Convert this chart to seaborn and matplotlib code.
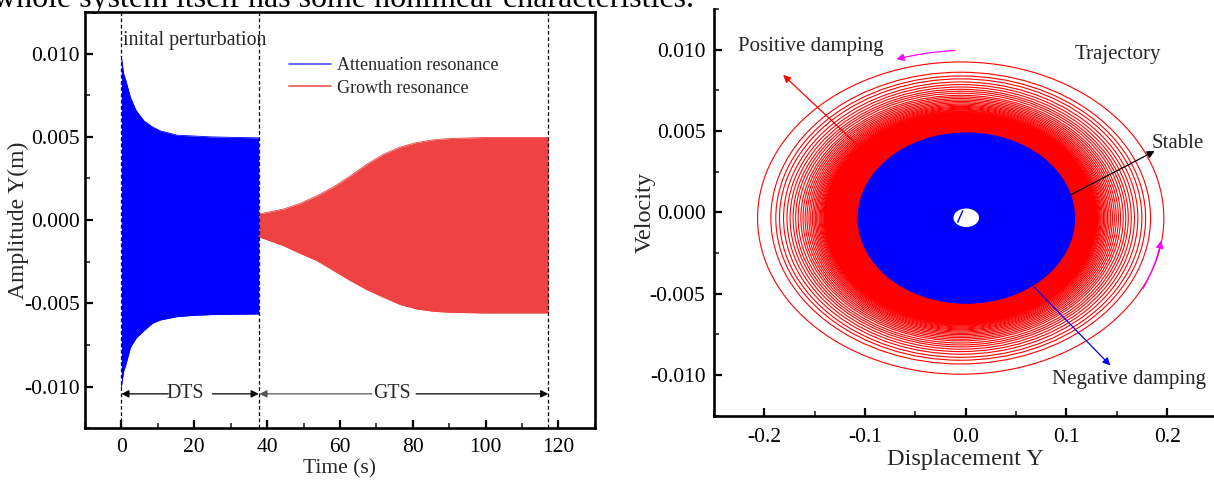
import matplotlib
matplotlib.use('Agg')
import matplotlib.pyplot as plt
from matplotlib.lines import Line2D
from matplotlib.patches import Ellipse
from matplotlib.ticker import MultipleLocator, FormatStrFormatter
import seaborn as sns

# -------------------- DATA --------------------
# left panel: amplitude envelopes of the time signal
blue_t = [0, 0.6, 1.2, 2.5, 4.0, 6.2, 8.5, 10.7, 15.3, 20, 24.4, 30, 37.7]
blue_upper = [0.0098, 0.0088, 0.0084, 0.00736, 0.0066, 0.00596, 0.0056, 0.00536,
              0.0051, 0.00505, 0.0050, 0.00497, 0.00494]
blue_lower = [-0.0100, -0.0091, -0.0087, -0.00764, -0.0071, -0.00664, -0.0062, -0.0060,
              -0.0058, -0.00572, -0.00568, -0.00566, -0.00564]

red_t = [37.7, 44.5, 49.1, 53.7, 58.3, 62.9, 67.4, 72.0, 76.6, 81.1, 85.7, 90.3, 99.4, 117.2]
red_upper = [0.00036, 0.00066, 0.0010, 0.00146, 0.0020, 0.00266, 0.00336, 0.00396,
             0.00439, 0.00466, 0.00482, 0.0049, 0.00496, 0.00496]
red_lower = [-0.0010, -0.00154, -0.0020, -0.00244, -0.00304, -0.00364, -0.00418, -0.00464,
             -0.00508, -0.00534, -0.00548, -0.00554, -0.00558, -0.00558]

stage_marks = [0, 37.7, 117.2]
series_labels = ['Attenuation resonance', 'Growth resonance']

# right panel: phase trajectory rings (half widths / half heights)
ring_rx = [0.2016, 0.1884, 0.1835, 0.1798, 0.1758, 0.1724, 0.1693, 0.1663, 0.1638, 0.1613,
           0.1586, 0.1565, 0.1544, 0.1525, 0.1506, 0.1489, 0.1472, 0.1457, 0.1443, 0.1430,
           0.1418, 0.1405, 0.1394, 0.1384, 0.1376, 0.1367, 0.1359, 0.1352, 0.1345, 0.1339]
ring_ry = [0.00960, 0.00897, 0.00874, 0.00856, 0.00837, 0.00821, 0.00806, 0.00792, 0.00780,
           0.00768, 0.00755, 0.00745, 0.00735, 0.00726, 0.00717, 0.00709, 0.00701, 0.00694,
           0.00687, 0.00681, 0.00675, 0.00669, 0.00664, 0.00659, 0.00655, 0.00651, 0.00647,
           0.00644, 0.00641, 0.00638]
ring_center = (-0.005, -0.00035)
band_r = (0.136, 0.0065)
stable_center = (0.0006, -0.00035)
stable_r = (0.108, 0.00527)
hole_center = (0.0005, -0.00033)
hole_r = (0.0127, 0.00057)

RED_FILL = '#ef4242'
BLUE = '#0000ff'

# -------------------- STYLE --------------------
sns.set_theme(style='ticks')
plt.rcParams['font.family'] = ['Liberation Serif', 'DejaVu Serif']
plt.rcParams['axes.unicode_minus'] = False
plt.rcParams['axes.linewidth'] = 1.9
plt.rcParams['xtick.direction'] = 'in'
plt.rcParams['ytick.direction'] = 'in'

fig = plt.figure(figsize=(12.14, 4.8), dpi=100)
fig.text(-0.006, 0.986, 'whole system itself has some nonlinear characteristics.',
         fontsize=23, va='baseline', ha='left', color='black')

# -------------------- LEFT PANEL --------------------
ax1 = fig.add_axes([0.070, 0.108, 0.420, 0.867])
ax1.fill_between(blue_t, blue_lower, blue_upper, color=BLUE, lw=0)
ax1.fill_between(red_t, red_lower, red_upper, color=RED_FILL, lw=0)
sns.lineplot(x=blue_t, y=blue_upper, ax=ax1, color=BLUE, lw=0.6)
sns.lineplot(x=blue_t, y=blue_lower, ax=ax1, color=BLUE, lw=0.6)
sns.lineplot(x=red_t, y=red_upper, ax=ax1, color=RED_FILL, lw=0.6)
sns.lineplot(x=red_t, y=red_lower, ax=ax1, color=RED_FILL, lw=0.6)

for xm in stage_marks:
    ax1.axvline(xm, color='black', lw=0.9, ls=(0, (3, 2)), zorder=3)

ax1.set_xlim(-10, 130)
ax1.set_ylim(-0.0125, 0.0125)
ax1.xaxis.set_major_locator(MultipleLocator(20))
ax1.xaxis.set_minor_locator(MultipleLocator(10))
ax1.yaxis.set_major_locator(MultipleLocator(0.005))
ax1.yaxis.set_minor_locator(MultipleLocator(0.0025))
ax1.yaxis.set_major_formatter(FormatStrFormatter('%.3f'))
ax1.tick_params(which='major', length=6, width=1.6, labelsize=15.5, colors='black')
ax1.tick_params(axis='x', which='major', pad=7)
ax1.tick_params(which='minor', length=3.5, width=1.2)
for s in ax1.spines.values():
    s.set_color('black')
ax1.set_xlabel('Time (s)', fontsize=15.5, labelpad=2)
ax1.set_ylabel('Amplitude Y(m)', fontsize=17, labelpad=-3)

ax1.text(0.5, 0.01076, 'inital perturbation', fontsize=14.3, va='center', ha='left')

handles = [Line2D([], [], color='#5a5aff', lw=1.3), Line2D([], [], color='#f06060', lw=1.3)]
ax1.legend(handles, series_labels, loc='upper left', bbox_to_anchor=(0.376, 0.922),
           frameon=False, fontsize=13, handlelength=2.3, handletextpad=0.35,
           labelspacing=0.3, borderpad=0.2)

y_arr = -0.01044
arr = dict(arrowstyle='-|>', color='black', lw=0.9, mutation_scale=11, shrinkA=0, shrinkB=0)
ax1.annotate('', xy=(0, y_arr), xytext=(12.9, y_arr), arrowprops=arr)
ax1.annotate('', xy=(37.7, y_arr), xytext=(25.0, y_arr), arrowprops=arr)
ax1.text(17.6, y_arr, 'DTS', fontsize=14.3, ha='center', va='center')
ax1.annotate('', xy=(37.9, y_arr), xytext=(68.8, y_arr),
             arrowprops=dict(arr, color='#555555'))
ax1.annotate('', xy=(117.2, y_arr), xytext=(80.9, y_arr), arrowprops=arr)
ax1.text(74.4, y_arr, 'GTS', fontsize=14.3, ha='center', va='center')

# -------------------- RIGHT PANEL --------------------
ax2 = fig.add_axes([0.588, 0.134, 0.415, 0.847])
ax2.add_patch(Ellipse(ring_center, 2 * band_r[0], 2 * band_r[1], color='#ff0000', lw=0))
for rx, ry in zip(ring_rx, ring_ry):
    ax2.add_patch(Ellipse(ring_center, 2 * rx, 2 * ry, fill=False, ec='#ff0000', lw=0.8))
ax2.add_patch(Ellipse(stable_center, 2 * stable_r[0], 2 * stable_r[1], color=BLUE, lw=0))
ax2.add_patch(Ellipse(hole_center, 2 * hole_r[0], 2 * hole_r[1], color='white', lw=0))
sns.lineplot(x=[-0.008, -0.003], y=[-0.0006, 0.0001], ax=ax2, color=BLUE, lw=1.0)

ax2.set_xlim(-0.25, 0.25)
ax2.set_ylim(-0.0125, 0.0125)
ax2.xaxis.set_major_locator(MultipleLocator(0.1))
ax2.xaxis.set_minor_locator(MultipleLocator(0.05))
ax2.yaxis.set_major_locator(MultipleLocator(0.005))
ax2.yaxis.set_minor_locator(MultipleLocator(0.0025))
ax2.xaxis.set_major_formatter(FormatStrFormatter('%.1f'))
ax2.yaxis.set_major_formatter(FormatStrFormatter('%.3f'))
ax2.tick_params(which='major', length=6, width=1.6, labelsize=15.5, colors='black')
ax2.tick_params(axis='x', which='major', pad=9)
ax2.tick_params(axis='y', which='major', pad=6)
ax2.tick_params(which='minor', length=3.5, width=1.2)
ax2.spines['top'].set_visible(False)
ax2.spines['right'].set_visible(False)
for s in ax2.spines.values():
    s.set_color('black')
ax2.set_xlabel('Displacement Y', fontsize=17.5, labelpad=1)
ax2.set_ylabel('Velocity', fontsize=17.5, labelpad=-4)

ax2.text(-0.226, 0.01018, 'Positive damping', fontsize=15, va='center', ha='left')
ax2.text(0.108, 0.00969, 'Trajectory', fontsize=15, va='center', ha='left')
ax2.text(0.184, 0.00424, 'Stable', fontsize=15, va='center', ha='left')
ax2.text(0.086, -0.01028, 'Negative damping', fontsize=15, va='center', ha='left')

def arrow(ax, tail, head, color, rad=0.0):
    ax.annotate('', xy=head, xytext=tail,
                arrowprops=dict(arrowstyle='-|>', color=color, lw=0.9, mutation_scale=11,
                                shrinkA=0, shrinkB=0, connectionstyle=f'arc3,rad={rad}'))

arrow(ax2, (-0.1019, 0.00383), (-0.1812, 0.00845), '#ff0000')
arrow(ax2, (0.1049, 0.0011), (0.1875, 0.00377), 'black')
arrow(ax2, (0.0678, -0.00459), (0.1435, -0.00941), BLUE)
arrow(ax2, (-0.0109, 0.00995), (-0.0688, 0.00942), '#ff00ff', rad=0.05)
arrow(ax2, (0.1759, -0.00469), (0.1940, -0.00173), '#ff00ff', rad=0.08)

fig.savefig('out.png', dpi=100)
